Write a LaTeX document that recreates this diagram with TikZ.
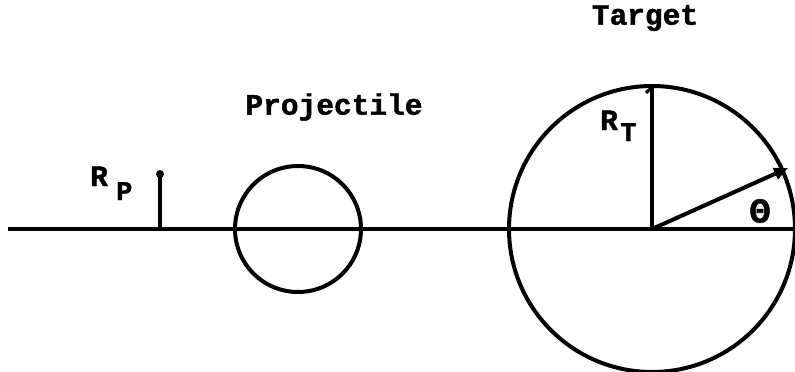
\documentclass[tikz,border=0pt]{standalone}
\usepackage{fontspec}
\newfontfamily\labfont{Liberation Mono}[BoldFeatures={FakeBold=1.5}]
\usetikzlibrary{arrows.meta}
\begin{document}
\begin{tikzpicture}[x=1pt,y=-1pt,
  thick line/.style={line width=4pt},
  lbl/.style={font=\labfont\bfseries\fontsize{29.5}{32}\selectfont, inner sep=0pt},
  sub/.style={font=\labfont\bfseries\fontsize{27}{30}\selectfont, inner sep=0pt}]
\useasboundingbox (0,0) rectangle (795,372);
\coordinate (L) at (8,229);
\coordinate (R) at (795,229);
\draw[thick line] (L) -- (R);
% projectile
\node[draw, line width=4pt, circle, minimum size=126pt, inner sep=0pt] (proj) at (298,229) {};
\node[lbl] (ptext) at (334,107) {Projectile};
% R_P stick
\coordinate (rpb) at (160,229);
\coordinate (rpt) at (160,174);
\draw[thick line] (rpb) -- (rpt);
\fill (rpt) circle (4pt);
\node[lbl, anchor=base west] (rp) at (90,186) {R};
\node[sub, anchor=base west] (rps) at (116,200) {P};
% target
\coordinate (tc) at (652,229);
\draw[thick line] (tc) circle (143pt);
\node[lbl] (ttext) at (645,18) {Target};
\coordinate (rtt) at (652,86);
\draw[thick line] (tc) -- (rtt);
\draw[line width=3pt] (652,87) -- (646,93);
\node[lbl, anchor=base west] (rt) at (600,130) {R};
\node[sub, anchor=base west] (rts) at (620,141) {T};
\coordinate (ae) at (788,168);
\draw[thick line, -{Triangle[length=14pt,width=12pt]}] (tc) -- (ae);
\node[font=\labfont\bfseries\fontsize{35}{38}\selectfont, inner sep=0pt] (th) at (760,211) {Θ};
\end{tikzpicture}
\end{document}
